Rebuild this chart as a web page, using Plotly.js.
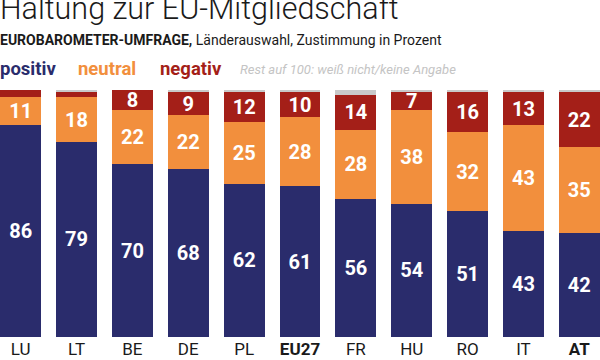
<!DOCTYPE html>
<html>
<head>
<meta charset="utf-8">
<script src="https://cdn.plot.ly/plotly-3.0.1.min.js"></script>
<style>html,body{margin:0;padding:0;background:#fff;}#chart{width:600px;height:360px;}</style>
</head>
<body>
<div id="chart"></div>
<script>
const categories = ["LU","LT","BE","DE","PL","EU27","FR","HU","RO","IT","AT"];
const tickLabels = ["LU","LT","BE","DE","PL","<b>EU27</b>","FR","HU","RO","IT","<b>AT</b>"];
const positiv = [86,79,70,68,62,61,56,54,51,43,42];
const neutral = [11,18,22,22,25,28,28,38,32,43,35];
const negativ = [3,2,8,9,12,10,14,7,16,13,22];
const rest = [0,1,0,1,1,1,2,1,1,1,1];

const F = 'Roboto, "Liberation Sans", sans-serif';
const NAVY = '#2a2c6c', ORANGE = '#f28f3d', RED = '#a41f18', GRAY = '#c9c9c9';

function lbl(arr){ return arr.map(v => v >= 5 ? String(v) : ''); }

function tr(vals, color, name, withText){
  return {
    type:'bar', x:categories, y:vals, name:name,
    marker:{color:color, line:{width:0}},
    text: withText ? lbl(vals) : undefined,
    textposition: withText ? 'inside' : 'none',
    insidetextanchor:'middle', textangle:0,
    textfont:{family:F, size:20, color:'#ffffff', weight:'bold'},
    hoverinfo:'skip', cliponaxis:false
  };
}

const data = [
  tr(positiv, NAVY, 'positiv', true),
  tr(neutral, ORANGE, 'neutral', true),
  tr(negativ, RED, 'negativ', true),
  tr(rest, GRAY, 'Rest', false)
];

function py(pix){ return (337 - pix) / 247; }

const layout = {
  width:600, height:360,
  margin:{l:0, r:0, t:90, b:23, pad:0},
  barmode:'stack', bargap:0.267,
  showlegend:false,
  paper_bgcolor:'#fff', plot_bgcolor:'#fff',
  uniformtext:{mode:'show', minsize:20},
  xaxis:{type:'category', range:[-0.37, 10.37], tickvals:categories, ticktext:tickLabels,
         showgrid:false, zeroline:false, showline:false, ticks:'',
         tickfont:{family:F, size:17, color:'#1a1a1a'}, fixedrange:true},
  yaxis:{range:[0,100], visible:false, fixedrange:true},
  annotations:[
    {xref:'paper', yref:'paper', x:-0.003, y:py(8), xanchor:'left', yanchor:'middle', showarrow:false,
     text:'Haltung zur EU-Mitgliedschaft', font:{family:F, size:30.5, color:'#1a1a1a', weight:300}},
    {xref:'paper', yref:'paper', x:-0.003, y:py(40), xanchor:'left', yanchor:'middle', showarrow:false,
     text:'<b>EUROBAROMETER-UMFRAGE,</b> Länderauswahl, Zustimmung in Prozent', font:{family:F, size:14, color:'#1a1a1a'}},
    {xref:'paper', yref:'paper', x:-0.003, y:py(69), xanchor:'left', yanchor:'middle', showarrow:false,
     text:'<b>positiv</b>', font:{family:F, size:18.5, color:NAVY}},
    {xref:'paper', yref:'paper', x:76/600, y:py(69), xanchor:'left', yanchor:'middle', showarrow:false,
     text:'<b>neutral</b>', font:{family:F, size:18.5, color:ORANGE}},
    {xref:'paper', yref:'paper', x:158/600, y:py(69), xanchor:'left', yanchor:'middle', showarrow:false,
     text:'<b>negativ</b>', font:{family:F, size:18.5, color:RED}},
    {xref:'paper', yref:'paper', x:238/600, y:py(70), xanchor:'left', yanchor:'middle', showarrow:false,
     text:'<i>Rest auf 100: weiß nicht/keine Angabe</i>', font:{family:F, size:13, color:'#c4c4c4'}}
  ]
};

Plotly.newPlot('chart', data, layout, {displayModeBar:false, staticPlot:true});
</script>
</body>
</html>
